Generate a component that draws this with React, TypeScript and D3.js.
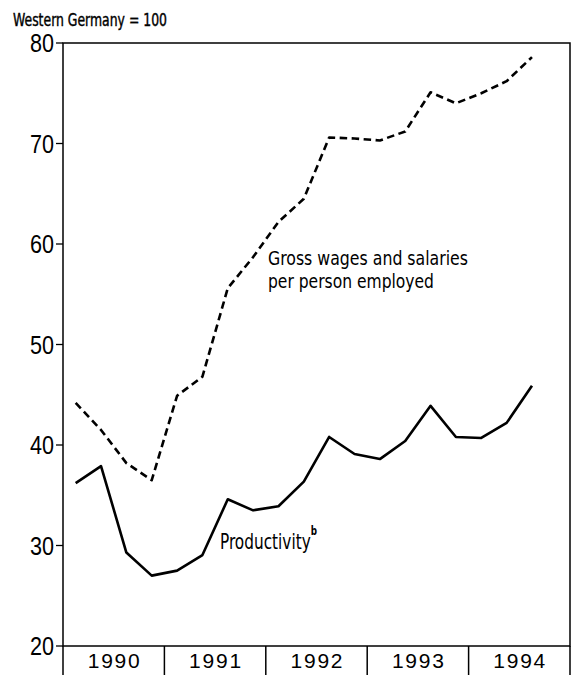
import React, { useEffect } from "react";
import * as d3 from "d3";

const years = ["1990", "1991", "1992", "1993", "1994"];
const quartersPerYear = 4;
const yTicks = [20, 30, 40, 50, 60, 70, 80];

// Quarterly values, 1990Q1 .. 1994Q3 (Western Germany = 100)
const wages = [
  44.2, 41.5, 38.2, 36.5, 44.9, 46.8, 55.6, 58.7, 62.2, 64.5, 70.6, 70.5, 70.3,
  71.2, 75.1, 74.0, 75.0, 76.2, 78.6,
];
const productivity = [
  36.2, 37.9, 29.3, 27.0, 27.5, 29.05, 34.6, 33.5, 33.9, 36.35, 40.8, 39.1,
  38.6, 40.4, 43.9, 40.8, 40.7, 42.2, 45.9,
];

const titleText = "Western Germany = 100";
const wagesLabel = ["Gross wages and salaries", "per person employed"];
const prodLabel = "Productivity";
const prodNote = "b";

const W = 573;
const H = 675;
const left = 63;
const right = 570;
const top = 43;
const bottom = 646;

const narrow = "'Liberation Sans Narrow', 'DejaVu Sans Condensed', 'Arial Narrow', sans-serif";
const regular = "'Liberation Sans', Arial, Helvetica, sans-serif";

export default function App() {
  useEffect(() => {
    document.body.style.margin = "0";
    document.body.style.overflow = "hidden";
  }, []);

  const nQ = years.length * quartersPerYear;
  const x = d3.scaleLinear().domain([0, nQ]).range([left, right]);
  const y = d3.scaleLinear().domain([20, 80]).range([bottom, top]);

  const line = d3
    .line<number>()
    .x((_, i) => x(i + 0.5))
    .y((d) => y(d));

  return (
    <svg
      width={W}
      height={H}
      style={{ position: "absolute", left: 0, top: 0, background: "#fff" }}
    >
      <rect x={0} y={0} width={W} height={H} fill="#fff" />
      {/* title */}
      <text
        x={13}
        y={26}
        fontFamily={narrow}
        fontSize={17}
        textLength={154}
        lengthAdjust="spacingAndGlyphs"
        fill="#000"
        stroke="#000"
        strokeWidth={0.4}
      >
        {titleText}
      </text>

      {/* frame */}
      <rect
        x={left}
        y={top}
        width={right - left}
        height={bottom - top}
        fill="none"
        stroke="#000"
        strokeWidth={1.5}
      />

      {/* y ticks */}
      {yTicks.map((t) => (
        <g key={t}>
          <line x1={56} x2={left} y1={y(t)} y2={y(t)} stroke="#000" strokeWidth={1.3} />
          <text
            x={54}
            y={y(t)}
            dy="0.36em"
            textAnchor="end"
            fontFamily={regular}
            fontSize={25}
            textLength={24}
            lengthAdjust="spacingAndGlyphs"
            fill="#000"
          >
            {t}
          </text>
        </g>
      ))}

      {/* year separators and labels */}
      {d3.range(years.length + 1).map((k) => (
        <line
          key={"s" + k}
          x1={x(k * quartersPerYear)}
          x2={x(k * quartersPerYear)}
          y1={bottom}
          y2={H}
          stroke="#000"
          strokeWidth={1.5}
        />
      ))}
      {years.map((yr, k) => (
        <text
          key={yr}
          x={x(k * quartersPerYear + quartersPerYear / 2) - 26}
          y={668}
          fontFamily={regular}
          fontSize={21}
          textLength={52}
          lengthAdjust="spacing"
          fill="#000"
        >
          {yr}
        </text>
      ))}

      {/* series */}
      <path
        d={line(wages) || ""}
        fill="none"
        stroke="#000"
        strokeWidth={2.6}
        strokeDasharray="7.5,4.5"
        strokeLinejoin="round"
      />
      <path
        d={line(productivity) || ""}
        fill="none"
        stroke="#000"
        strokeWidth={2.6}
        strokeLinejoin="round"
      />

      {/* labels */}
      <text
        x={268}
        y={265}
        fontFamily={narrow}
        fontSize={20}
        textLength={200}
        lengthAdjust="spacingAndGlyphs"
        fill="#000"
      >
        {wagesLabel[0]}
      </text>
      <text
        x={268}
        y={288}
        fontFamily={narrow}
        fontSize={20}
        textLength={166}
        lengthAdjust="spacingAndGlyphs"
        fill="#000"
      >
        {wagesLabel[1]}
      </text>
      <text
        x={220}
        y={549}
        fontFamily={narrow}
        fontSize={21}
        textLength={97}
        lengthAdjust="spacingAndGlyphs"
        fill="#000"
      >
        {prodLabel}
        <tspan dy={-14} fontSize={12} fontWeight="bold">
          {prodNote}
        </tspan>
      </text>
    </svg>
  );
}
